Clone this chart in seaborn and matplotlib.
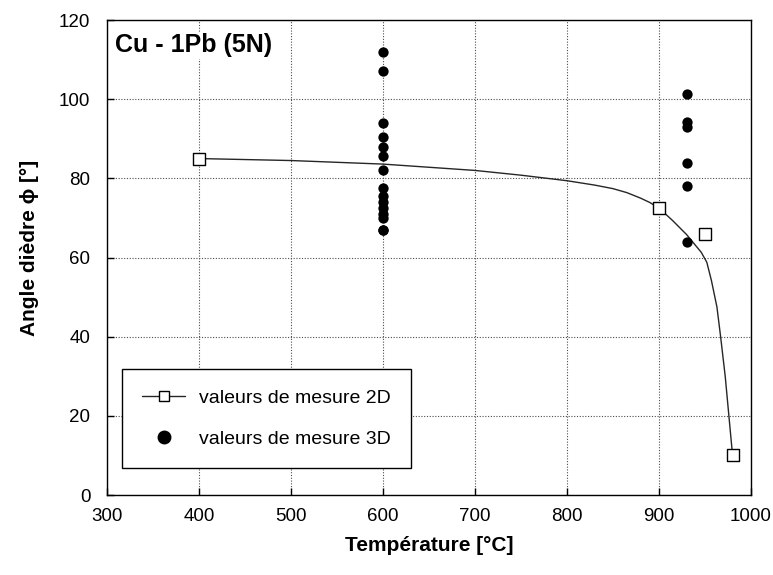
import numpy as np
import pandas as pd
import matplotlib
matplotlib.use("Agg")
import matplotlib.pyplot as plt
from matplotlib.lines import Line2D
import seaborn as sns

# 2D measurements (open squares)
temp_2d = [400, 900, 950, 980]
angle_2d = [85.0, 72.5, 66.0, 10.0]

# 3D measurements (filled circles)
temp_3d = [600] * 15 + [930] * 6
angle_3d = [112.0, 107.0, 94.0, 90.5, 87.8, 85.6, 82.0, 77.5, 75.5, 74.0, 72.5, 71.0, 70.0, 67.0, 67.0,
            101.2, 94.2, 93.0, 84.0, 78.0, 64.0]

# fitted curve
curve_t = [400, 500, 600, 700, 750, 800, 830, 850, 865, 880, 890, 900, 915, 930, 946, 952, 957, 963, 967, 972, 976, 980]
curve_a = [85.0, 84.5, 83.6, 82.0, 80.8, 79.4, 78.3, 77.4, 76.4, 75.0, 73.9, 72.5, 69.3, 65.8, 61.3, 58.8, 54.2, 47.5, 40.0, 30.0, 20.0, 10.0]

df_2d = pd.DataFrame({'T': temp_2d, 'phi': angle_2d})
df_3d = pd.DataFrame({'T': temp_3d, 'phi': angle_3d})
df_fit = pd.DataFrame({'T': curve_t, 'phi': curve_a})

sns.set_style("white")
plt.rcParams['font.family'] = ['Liberation Sans', 'DejaVu Sans']
plt.rcParams['text.color'] = 'black'
plt.rcParams['axes.labelcolor'] = 'black'
plt.rcParams['xtick.color'] = 'black'
plt.rcParams['ytick.color'] = 'black'

fig = plt.figure(figsize=(7.73, 5.75), dpi=100)
ax = fig.add_axes([0.1384, 0.1391, 0.8331, 0.8261])

sns.lineplot(data=df_fit, x='T', y='phi', ax=ax, color='0.15', linewidth=1, sort=False, zorder=3)
sns.scatterplot(data=df_3d, x='T', y='phi', ax=ax, color='black', s=55, marker='o',
                edgecolor='black', linewidth=0, zorder=4)
sns.scatterplot(data=df_2d, x='T', y='phi', ax=ax, color='white', s=75, marker='s',
                edgecolor='black', linewidth=1, zorder=5)

ax.set_xlim(300, 1000)
ax.set_ylim(0, 120)
ax.set_xticks(range(300, 1001, 100))
ax.set_yticks(range(0, 121, 20))
ax.grid(True, color='0.3', linestyle=(0, (1, 1.5)), linewidth=0.8)
ax.tick_params(direction='in', length=5, width=1, labelsize=13.5, color='black',
               labelcolor='black', left=True, bottom=True)
ax.tick_params(axis='y', pad=12)
ax.tick_params(axis='x', pad=9)
for sp in ax.spines.values():
    sp.set_color('black')
    sp.set_linewidth(1)

ax.set_xlabel('Température [°C]', fontsize=15, fontweight='bold', labelpad=8)
ax.set_ylabel('Angle dièdre ϕ [°]', fontsize=15, fontweight='bold')
ax.yaxis.set_label_coords(-0.106, 0.52)

ax.text(0.012, 0.972, 'Cu - 1Pb (5N)', transform=ax.transAxes, fontsize=18,
        fontweight='bold', ha='left', va='top', zorder=6,
        bbox=dict(facecolor='white', edgecolor='none', pad=1))

handles = [
    Line2D([], [], color='0.15', linewidth=1, marker='s', markersize=7,
           markerfacecolor='white', markeredgecolor='black'),
    Line2D([], [], color='black', linestyle='none', marker='o', markersize=9),
]
leg = ax.legend(handles, ['valeurs de mesure 2D', 'valeurs de mesure 3D'],
                loc='lower left', bbox_to_anchor=(0.023, 0.057), fontsize=14,
                frameon=True, fancybox=False, framealpha=1, edgecolor='black',
                borderpad=1.05, labelspacing=1.2, handlelength=2.2, handletextpad=0.7,
                borderaxespad=0)
leg.get_frame().set_linewidth(1)
leg.set_zorder(7)

fig.savefig('out.png', dpi=100)
